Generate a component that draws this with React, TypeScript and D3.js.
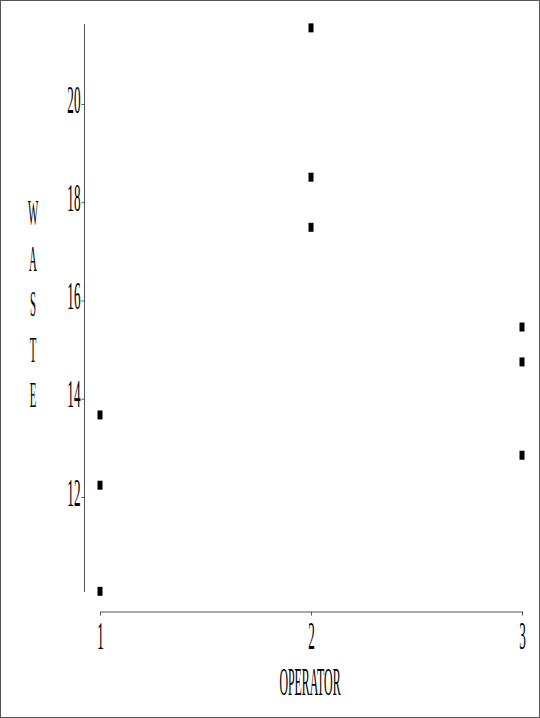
import React, { useRef, useEffect } from 'react';
import * as d3 from 'd3';

const operators = [1, 1, 1, 2, 2, 2, 3, 3, 3];
const waste = [13.67, 12.24, 10.08, 21.55, 18.51, 17.49, 15.46, 14.75, 12.85];
const yTicks = [12, 14, 16, 18, 20];
const xTicks = [1, 2, 3];
const yLabel = 'WASTE';
const xLabel = 'OPERATOR';

const W = 540;
const H = 718;

const App = () => {
  const svgRef = useRef<SVGSVGElement>(null);

  useEffect(() => {
    document.body.style.margin = '0';
    const svg = d3.select(svgRef.current);
    svg.selectAll('*').remove();

    const font = 'Liberation Serif, DejaVu Serif, serif';
    const axisColor = '#555';

    // frame
    svg.append('rect')
      .attr('x', 0.5).attr('y', 0.5)
      .attr('width', W - 1).attr('height', H - 1)
      .attr('fill', 'white').attr('stroke', axisColor);

    const x = d3.scaleLinear().domain([1, 3]).range([100, 522]);
    const y = d3.scaleLinear().domain([12, 20]).range([497, 104]);

    // y axis
    const yAxis = d3.axisLeft(y).tickValues(yTicks).tickSize(3).tickSizeOuter(0).tickFormat(d3.format('d'));
    const gy = svg.append('g').attr('transform', 'translate(84.5,0)').call(yAxis);
    gy.select('.domain').remove();
    gy.append('line')
      .attr('x1', 0).attr('x2', 0)
      .attr('y1', 24).attr('y2', 592)
      .attr('stroke', axisColor);
    gy.selectAll('.tick line').attr('stroke', axisColor);
    gy.selectAll('.tick text').remove();
    gy.selectAll('.tick').append('g')
      .attr('transform', 'translate(-4,8) scale(0.33,1)')
      .append('text')
      .attr('text-anchor', 'end')
      .attr('font-family', font)
      .attr('font-size', 40)
      .attr('fill', 'black')
      .text(d => String(d));

    // x axis
    const xAxis = d3.axisBottom(x).tickValues(xTicks).tickSize(4).tickSizeOuter(0).tickFormat(d3.format('d'));
    const gx = svg.append('g').attr('transform', 'translate(0,611.5)').call(xAxis);
    gx.select('.domain').attr('stroke', axisColor);
    gx.selectAll('.tick line').attr('stroke', axisColor);
    gx.selectAll('.tick text').remove();
    gx.selectAll('.tick').append('g')
      .attr('transform', 'translate(0,37) scale(0.33,1)')
      .append('text')
      .attr('text-anchor', 'middle')
      .attr('font-family', font)
      .attr('font-size', 40)
      .attr('fill', 'black')
      .text(d => String(d));

    // x label
    svg.append('g')
      .attr('transform', 'translate(310,695) scale(0.29,1)')
      .append('text')
      .attr('text-anchor', 'middle')
      .attr('font-family', font)
      .attr('font-size', 41)
      .attr('fill', 'black')
      .text(xLabel);

    // y label, stacked letters
    svg.append('g').selectAll('g')
      .data(yLabel.split(''))
      .join('g')
      .attr('transform', (d, i) => `translate(33,${225 + i * 45.5}) scale(0.3,1)`)
      .append('text')
      .attr('text-anchor', 'middle')
      .attr('font-family', font)
      .attr('font-size', 36)
      .attr('fill', 'black')
      .text(d => d);

    // points
    svg.append('g').selectAll('rect')
      .data(waste)
      .join('rect')
      .attr('x', (d, i) => x(operators[i]) - 2.5)
      .attr('y', d => y(d) - 4.5)
      .attr('width', 5)
      .attr('height', 9)
      .attr('fill', 'black');
  }, []);

  return (
    <svg ref={svgRef} width={W} height={H} style={{ display: 'block' }}></svg>
  );
};

export default App;
